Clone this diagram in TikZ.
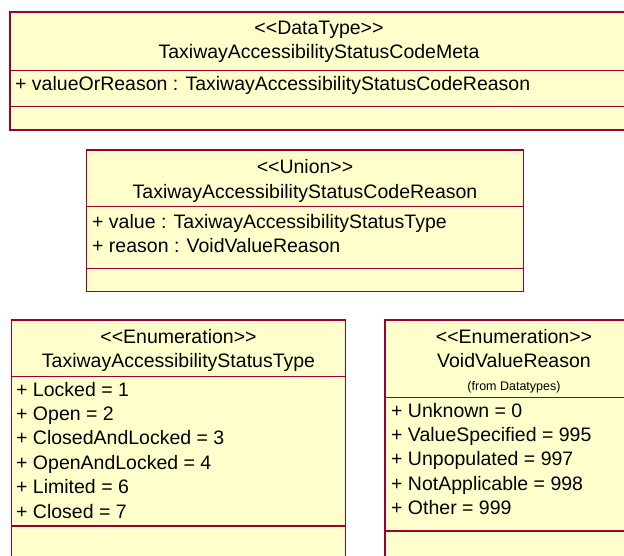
\documentclass[tikz,border=0pt]{standalone}
\usepackage{fontspec}
\setmainfont{Liberation Sans}
\definecolor{umlfill}{RGB}{255,255,204}
\definecolor{umlline}{RGB}{153,0,51}
\begin{document}
\begin{tikzpicture}[x=1pt,y=-1pt,
  box/.style={draw=umlline,fill=umlfill,line width=1.2pt},
  sep/.style={draw=umlline,line width=1.2pt},
  ctext/.style={anchor=base,inner sep=0pt,font=\fontsize{19.5}{24}\selectfont},
  ltext/.style={anchor=base west,inner sep=0pt,font=\fontsize{19.5}{24}\selectfont},
  smalltext/.style={anchor=base,inner sep=0pt,font=\fontsize{12.5}{14}\selectfont}]
\useasboundingbox (0,0) rectangle (624,555);
\clip (0,0) rectangle (624,555);
% Box 1
\draw[box] (10,12) rectangle (640,130);
\draw[sep] (10,70.7) -- (640,70.7);
\draw[sep] (10,106.7) -- (640,106.7);
\node[ctext] (m1) at (319,34) {<{}<DataType>{}>};
\node[ctext] (m2) at (319,58) {TaxiwayAccessibilityStatusCodeMeta};
\node[ltext] (m3) at (15,90) {+ valueOrReason : TaxiwayAccessibilityStatusCodeReason};
% Box 2
\draw[box] (86.7,150) rectangle (523.3,291.7);
\draw[sep] (86.7,206.7) -- (523.3,206.7);
\draw[sep] (86.7,268.3) -- (523.3,268.3);
\node[ctext] (r1) at (305,173) {<{}<Union>{}>};
\node[ctext] (r2) at (305,198) {TaxiwayAccessibilityStatusCodeReason};
\node[ltext] (r3) at (92,228) {+ value : TaxiwayAccessibilityStatusType};
\node[ltext] (r4) at (92,252) {+ reason : VoidValueReason};
% Box 3
\draw[box] (11.3,320) rectangle (345.7,570);
\draw[sep] (11.3,376.7) -- (345.7,376.7);
\draw[sep] (11.3,526) -- (345.7,526);
\node[ctext] (t1) at (178.5,343) {<{}<Enumeration>{}>};
\node[ctext] (t2) at (178.5,367) {TaxiwayAccessibilityStatusType};
\node[ltext] (t3) at (16,396) {+ Locked = 1};
\node[ltext] (t4) at (16,420.4) {+ Open = 2};
\node[ltext] (t5) at (16,444.8) {+ ClosedAndLocked = 3};
\node[ltext] (t6) at (16,469.2) {+ OpenAndLocked = 4};
\node[ltext] (t7) at (16,493.6) {+ Limited = 6};
\node[ltext] (t8) at (16,518) {+ Closed = 7};
% Box 4
\draw[box] (385,320) rectangle (643,570);
\draw[sep] (385,397.3) -- (643,397.3);
\draw[sep] (385,531) -- (643,531);
\node[ctext] (v1) at (514,343) {<{}<Enumeration>{}>};
\node[ctext] (v2) at (514,367) {VoidValueReason};
\node[smalltext] (v3) at (514,390) {(from Datatypes)};
\node[ltext] (v4) at (391,417) {+ Unknown = 0};
\node[ltext] (v5) at (391,441.4) {+ ValueSpecified = 995};
\node[ltext] (v6) at (391,465.8) {+ Unpopulated = 997};
\node[ltext] (v7) at (391,490.2) {+ NotApplicable = 998};
\node[ltext] (v8) at (391,514.6) {+ Other = 999};
\end{tikzpicture}
\end{document}
